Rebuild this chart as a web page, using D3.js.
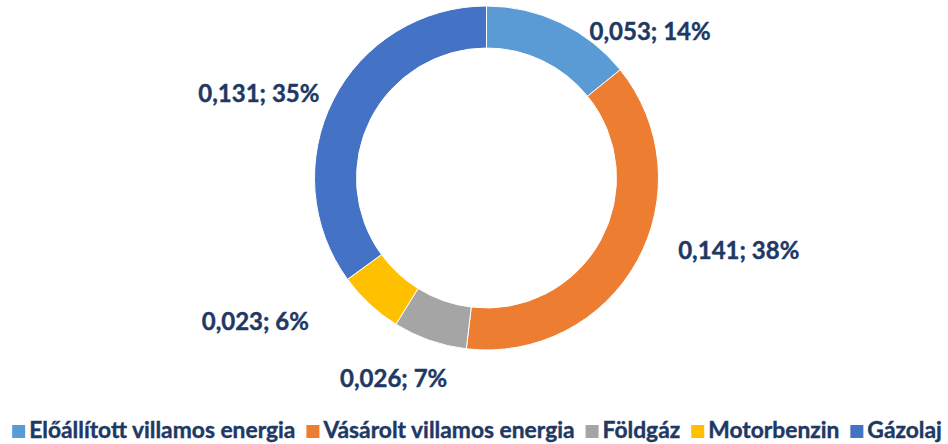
<!DOCTYPE html>
<html>
<head>
<meta charset="utf-8">
<script src="https://cdn.jsdelivr.net/npm/d3@7"></script>
<style>
  body { margin: 0; background: #fff; }
  text { font-family: Lato, "Open Sans", sans-serif; font-weight: bold; fill: #203864; stroke: #203864; stroke-width: 0.4; }
</style>
</head>
<body>
<svg id="chart" width="948" height="444"></svg>
<script>
const categories = ["Előállított villamos energia", "Vásárolt villamos energia", "Földgáz", "Motorbenzin", "Gázolaj"];
const values = [0.053, 0.141, 0.026, 0.023, 0.131];
const percents = [14, 38, 7, 6, 35];
const colors = ["#5B9BD5", "#ED7D31", "#A5A5A5", "#FFC000", "#4472C4"];

// label nudges (px) relative to the label arc centroid
const label_nudge = [[71, 47], [64, -32], [-22, -3], [-85, -15], [-36, 12]];

const cx = 486.5, cy = 178;
const outer_r = 172, inner_r = 130;

const svg = d3.select("#chart");

var pie = d3.pie().sort(null).value(d => d);
var arcs = pie(values);

var arc = d3.arc().innerRadius(inner_r).outerRadius(outer_r);
var labelArc = d3.arc().innerRadius(215).outerRadius(215);

var g = svg.append("g").attr("transform", `translate(${cx},${cy})`);

g.selectAll("path")
    .data(arcs)
    .enter()
    .append("path")
    .attr("d", arc)
    .attr("fill", (d, i) => colors[i])
    .attr("stroke", "#fff")
    .attr("stroke-width", 1);

g.selectAll("text.lbl")
    .data(arcs)
    .enter()
    .append("text")
    .attr("class", "lbl")
    .attr("text-anchor", "middle")
    .attr("font-size", 24)
    .attr("x", (d, i) => labelArc.centroid(d)[0] + label_nudge[i][0])
    .attr("y", (d, i) => labelArc.centroid(d)[1] + label_nudge[i][1] + 9)
    .text((d, i) => d3.format(".3f")(values[i]).replace(".", ",") + "; " + percents[i] + "%");

//legend at the bottom, centred
var legend = svg.append("g");
var sq = 13, gap_txt = 4, gap_item = 11;
var x = 0;
categories.forEach((c, i) => {
    var item = legend.append("g").attr("transform", `translate(${x},0)`);
    item.append("rect")
        .attr("x", 0).attr("y", 425)
        .attr("width", sq).attr("height", sq)
        .attr("fill", colors[i]);
    var t = item.append("text")
        .attr("x", sq + gap_txt)
        .attr("y", 438)
        .attr("font-size", 22.8)
        .text(c);
    x += sq + gap_txt + t.node().getComputedTextLength() + gap_item;
});
x -= gap_item;
legend.attr("transform", `translate(${477 - x / 2},0)`);
</script>
</body>
</html>
